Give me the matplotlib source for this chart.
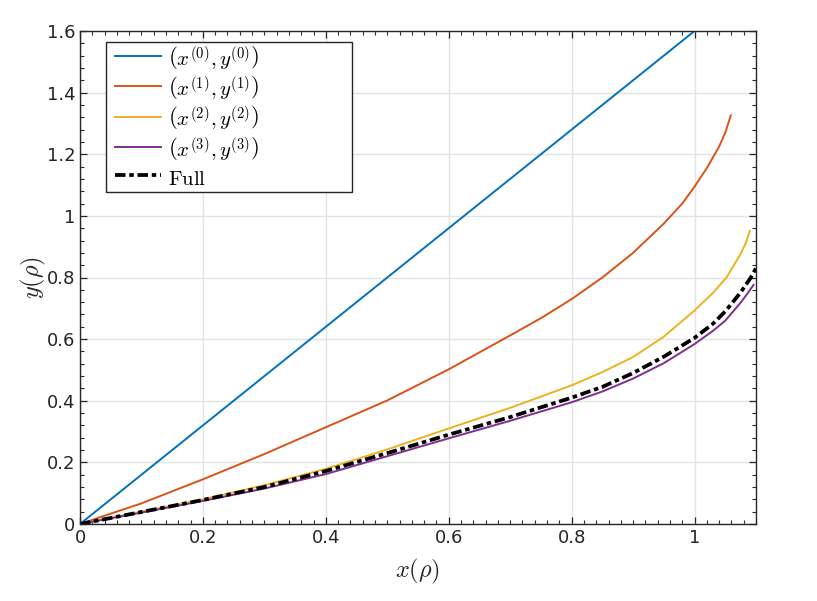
import numpy as np
import matplotlib
matplotlib.use("Agg")
import matplotlib.pyplot as plt
from matplotlib.patches import Rectangle
from matplotlib.ticker import MultipleLocator, FixedLocator, FixedFormatter

# --- Data ---
x0 = [0.0, 1.1]
y0 = [0.0, 1.76]

x1 = [0.0, 0.1, 0.2, 0.3, 0.4, 0.5, 0.6, 0.7, 0.75, 0.8, 0.85, 0.9, 0.95, 0.98, 1.0, 1.02, 1.04, 1.05, 1.059]
y1 = [0.0, 0.067, 0.145, 0.227, 0.314, 0.401, 0.502, 0.612, 0.668, 0.73, 0.80, 0.88, 0.975, 1.04, 1.095, 1.155, 1.225, 1.27, 1.326]

x2 = [0.0, 0.1, 0.2, 0.3, 0.4, 0.5, 0.6, 0.7, 0.8, 0.85, 0.9, 0.95, 1.0, 1.03, 1.052, 1.074, 1.083, 1.09]
y2 = [0.0, 0.04, 0.08, 0.126, 0.179, 0.242, 0.31, 0.377, 0.45, 0.493, 0.542, 0.608, 0.693, 0.75, 0.80, 0.873, 0.91, 0.951]

x3 = [0.0, 0.1, 0.2, 0.3, 0.4, 0.5, 0.6, 0.7, 0.8, 0.85, 0.9, 0.95, 1.0, 1.03, 1.05, 1.074, 1.085, 1.096]
y3 = [0.0, 0.037, 0.075, 0.115, 0.162, 0.22, 0.278, 0.335, 0.395, 0.43, 0.472, 0.522, 0.584, 0.627, 0.66, 0.716, 0.745, 0.776]

xf = [0.0, 0.1, 0.2, 0.3, 0.4, 0.5, 0.6, 0.7, 0.8, 0.85, 0.9, 0.95, 1.0, 1.03, 1.05, 1.074, 1.09, 1.1]
yf = [0.0, 0.039, 0.078, 0.12, 0.172, 0.23, 0.29, 0.347, 0.41, 0.445, 0.49, 0.543, 0.604, 0.65, 0.69, 0.749, 0.795, 0.83]

labels = [r"$\left(x^{(0)},y^{(0)}\right)$", r"$\left(x^{(1)},y^{(1)}\right)$",
          r"$\left(x^{(2)},y^{(2)}\right)$", r"$\left(x^{(3)},y^{(3)}\right)$",
          r"$\mathrm{Full}$"]
colors = ["#0072BD", "#D95319", "#EDB120", "#7E2F8E"]

xticks = [0, 0.2, 0.4, 0.6, 0.8, 1.0]
xtick_labels = ["0", "0.2", "0.4", "0.6", "0.8", "1"]
yticks = [0, 0.2, 0.4, 0.6, 0.8, 1.0, 1.2, 1.4, 1.6]
ytick_labels = ["0", "0.2", "0.4", "0.6", "0.8", "1", "1.2", "1.4", "1.6"]

plt.rcParams["font.family"] = ["DejaVu Sans"]
plt.rcParams["mathtext.fontset"] = "cm"

fig = plt.figure(figsize=(8.17, 6.01), dpi=100)
ax = fig.add_axes([80 / 817, 77 / 601, 676 / 817, 493 / 601])

for xs, ys, c, lab in zip([x0, x1, x2, x3], [y0, y1, y2, y3], colors, labels[:4]):
    ax.plot(xs, ys, color=c, lw=1.4, label=lab)
ax.plot(xf, yf, color="black", lw=2.7, linestyle=(0, (2.8, 1.0, 1.2, 1.0)), label=labels[4])

ax.set_xlim(0, 1.1)
ax.set_ylim(0, 1.6)
ax.xaxis.set_major_locator(FixedLocator(xticks))
ax.xaxis.set_major_formatter(FixedFormatter(xtick_labels))
ax.yaxis.set_major_locator(FixedLocator(yticks))
ax.yaxis.set_major_formatter(FixedFormatter(ytick_labels))
ax.xaxis.set_minor_locator(MultipleLocator(0.02))
ax.yaxis.set_minor_locator(MultipleLocator(0.04))

ax.grid(True, which="major", color="#e3e3e3", lw=1.0)
ax.set_axisbelow(True)
ax.tick_params(which="both", direction="in", top=True, right=True, colors="#262626",
               labelsize=13)
ax.tick_params(which="major", length=5, width=0.9)
ax.tick_params(which="minor", length=3, width=0.8)
for s in ax.spines.values():
    s.set_color("#262626")
    s.set_linewidth(1.0)

ax.set_xlabel(r"$x(\rho)$", fontsize=17.5, color="#262626", labelpad=7)
ax.set_ylabel(r"$y(\rho)$", fontsize=17.5, color="#262626", labelpad=-1)

# legend box drawn separately (MATLAB leaves extra room on the right)
box = Rectangle((0.0385, 0.673), 0.364, 0.305, transform=ax.transAxes,
                facecolor="white", edgecolor="#262626", lw=1.0, zorder=4)
ax.add_patch(box)
leg = ax.legend(loc="upper left", bbox_to_anchor=(0.052, 0.974), fontsize=15,
                frameon=False, borderpad=0, borderaxespad=0,
                handlelength=2.2, handleheight=1.52, labelspacing=0.08,
                handletextpad=0.35)
leg.set_zorder(5)

fig.savefig("out.png", dpi=100)
